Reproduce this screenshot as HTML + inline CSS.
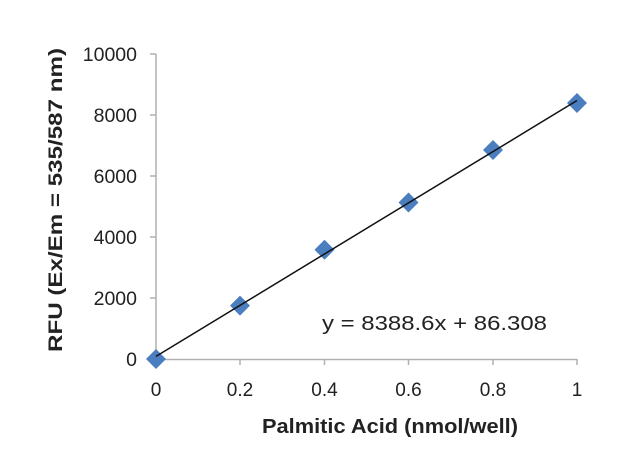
<!DOCTYPE html>
<html><head><style>body{margin:0;background:#fff}svg{display:block}</style></head><body>
<svg width="640" height="459" xmlns="http://www.w3.org/2000/svg" font-family="Liberation Sans, Arial, sans-serif">
<g stroke="#b0b0b0" stroke-width="1.5">
<line x1="156" y1="54" x2="156" y2="360"/>
<line x1="156" y1="359.5" x2="577" y2="359.5"/>
<line x1="150" y1="54" x2="156" y2="54"/>
<line x1="150" y1="115" x2="156" y2="115"/>
<line x1="150" y1="176" x2="156" y2="176"/>
<line x1="150" y1="237" x2="156" y2="237"/>
<line x1="150" y1="298" x2="156" y2="298"/>
<line x1="150" y1="359" x2="156" y2="359"/>
<line x1="156" y1="359" x2="156" y2="365"/>
<line x1="240" y1="359" x2="240" y2="365"/>
<line x1="324.5" y1="359" x2="324.5" y2="365"/>
<line x1="408.5" y1="359" x2="408.5" y2="365"/>
<line x1="493" y1="359" x2="493" y2="365"/>
<line x1="577" y1="359" x2="577" y2="365"/>
</g>
<g font-size="19.5" fill="#222" text-anchor="end">
<text x="137" y="61">10000</text>
<text x="137" y="122">8000</text>
<text x="137" y="183">6000</text>
<text x="137" y="244">4000</text>
<text x="137" y="305">2000</text>
<text x="137" y="366">0</text>
</g>
<g font-size="19" fill="#222" text-anchor="middle">
<text x="156" y="396">0</text>
<text x="240" y="396">0.2</text>
<text x="324.5" y="396">0.4</text>
<text x="408.5" y="396">0.6</text>
<text x="493" y="396">0.8</text>
<text x="577" y="396">1</text>
</g>
<g fill="#4a7ebf">
<path d="M156 349 L166 359 L156 369 L146 359Z"/>
<path d="M240 295.6 L250 305.6 L240 315.6 L230 305.6Z"/>
<path d="M324.5 239.8 L334.5 249.8 L324.5 259.8 L314.5 249.8Z"/>
<path d="M408.5 192.5 L418.5 202.5 L408.5 212.5 L398.5 202.5Z"/>
<path d="M493 140 L503 150 L493 160 L483 150Z"/>
<path d="M577 93 L587 103 L577 113 L567 103Z"/>
</g>
<line x1="156" y1="356.4" x2="577" y2="100.5" stroke="#111" stroke-width="1.5"/>
<text x="322" y="330" font-size="20.5" fill="#222" textLength="225" lengthAdjust="spacingAndGlyphs">y = 8388.6x + 86.308</text>
<text x="262" y="433" font-size="20" font-weight="bold" fill="#222" textLength="256" lengthAdjust="spacingAndGlyphs">Palmitic Acid (nmol/well)</text>
<text transform="translate(62,352) rotate(-90)" font-size="19.5" font-weight="bold" fill="#222" textLength="304" lengthAdjust="spacingAndGlyphs">RFU (Ex/Em = 535/587 nm)</text>
</svg>
</body></html>
